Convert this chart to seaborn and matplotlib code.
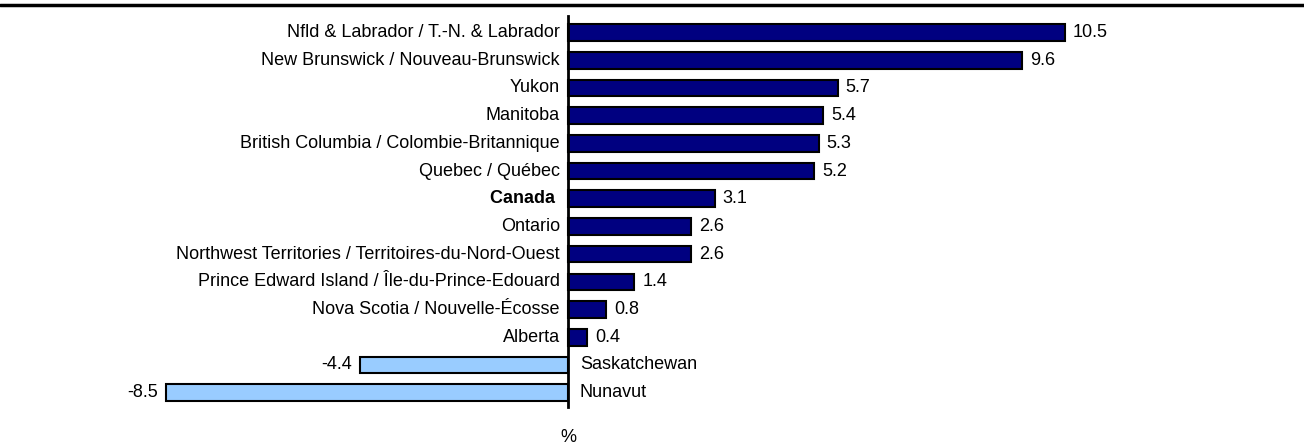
import matplotlib
matplotlib.use("Agg")
import matplotlib.pyplot as plt
import seaborn as sns
import pandas as pd
from matplotlib.lines import Line2D

regions = [
    "Nfld & Labrador / T.-N. & Labrador",
    "New Brunswick / Nouveau-Brunswick",
    "Yukon",
    "Manitoba",
    "British Columbia / Colombie-Britannique",
    "Quebec / Québec",
    "Canada",
    "Ontario",
    "Northwest Territories / Territoires-du-Nord-Ouest",
    "Prince Edward Island / Île-du-Prince-Edouard",
    "Nova Scotia / Nouvelle-Écosse",
    "Alberta",
    "Saskatchewan",
    "Nunavut",
]
values = [10.5, 9.6, 5.7, 5.4, 5.3, 5.2, 3.1, 2.6, 2.6, 1.4, 0.8, 0.4, -4.4, -8.5]
value_labels = ["10.5", "9.6", "5.7", "5.4", "5.3", "5.2", "3.1", "2.6", "2.6",
                "1.4", "0.8", "0.4", "-4.4", "-8.5"]
axis_label = "%"

sns.set_style("white")
plt.rcParams["font.family"] = ["Liberation Sans", "DejaVu Sans"]
plt.rcParams["text.color"] = "black"

df = pd.DataFrame({"region": regions, "value": values,
                   "sign": ["pos" if v >= 0 else "neg" for v in values]})

fig = plt.figure(figsize=(13.04, 4.44), dpi=100)
ax = fig.add_axes([0, 37 / 444, 1, (407 - 16) / 444])

sns.barplot(data=df, x="value", y="region", hue="sign",
            palette={"pos": "#000080", "neg": "#99CCFF"}, saturation=1,
            dodge=False, width=0.6, orient="h", legend=False,
            edgecolor="black", linewidth=1.5, ax=ax)

ax.set_xlim(-568 / 47.3, (1304 - 568) / 47.3)
ax.set_ylim(13.52, -0.6)
for s in ["top", "right", "bottom"]:
    ax.spines[s].set_visible(False)
ax.spines["left"].set_position(("data", 0))
ax.spines["left"].set_linewidth(2)
ax.spines["left"].set_color("black")
ax.set_xticks([])
ax.set_yticks([])
ax.set_xlabel("")
ax.set_ylabel("")

fs = 13
off = 0.17
for i, (r, v, lab) in enumerate(zip(regions, values, value_labels)):
    if v >= 0:
        ax.text(-off, i, r + (" " if r == "Canada" else ""), ha="right", va="center",
                fontsize=fs, color="black",
                fontweight="bold" if r == "Canada" else "normal")
        ax.text(v + off, i, lab, ha="left", va="center", fontsize=fs, color="black")
    else:
        ax.text(off + 0.08, i, r, ha="left", va="center", fontsize=fs, color="black")
        ax.text(v - off, i, lab, ha="right", va="center", fontsize=fs, color="black")

fig.add_artist(Line2D([0, 1], [1 - 5 / 444, 1 - 5 / 444], color="black",
                      linewidth=2.5, transform=fig.transFigure))
fig.text(568 / 1304, 1 - 437 / 444, axis_label, ha="center", va="center",
         fontsize=fs, color="black")

fig.savefig("out.png", dpi=100)
